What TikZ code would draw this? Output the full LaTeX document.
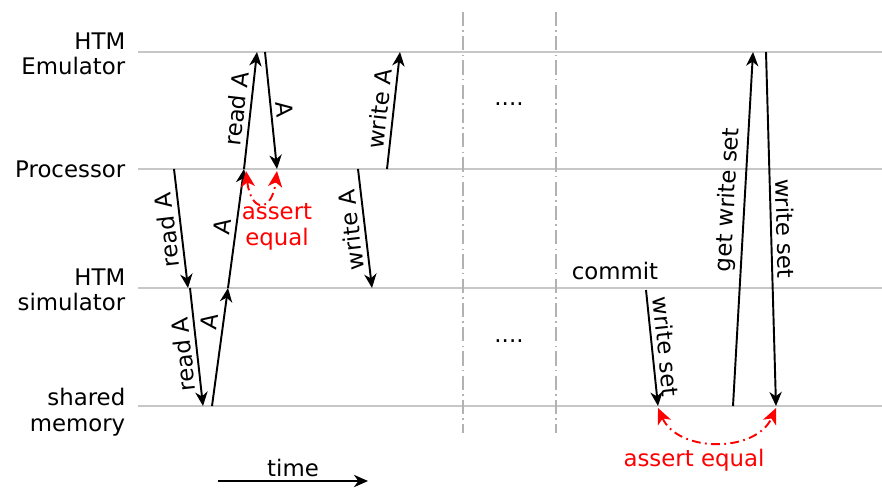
\documentclass[tikz,border=0pt]{standalone}
\usepackage{fontspec}
\setmainfont{DejaVu Sans}
\usetikzlibrary{arrows.meta}

\tikzset{
	lane/.style={black!22, line width=1.2pt},
	cut/.style={black!30, line width=1.2pt, dash pattern=on 8pt off 2.5pt on 0.8pt off 2.5pt},
	msg/.style={line width=1.1pt, -{Stealth[length=8pt, width=7pt, inset=2.5pt]}},
	eq/.style={red, line width=1.1pt, dash pattern=on 5pt off 2.5pt on 1pt off 2.5pt,
		{Stealth[length=9pt, width=8pt, inset=2.5pt]}-{Stealth[length=9pt, width=8pt, inset=2.5pt]}},
	lbl/.style={font=\fontsize{13}{14.5}\selectfont, inner sep=2.5pt},
	turned/.style={rotate=180},
}

\begin{document}
\begin{tikzpicture}[x=0.02cm, y=-0.02cm]
				\useasboundingbox (0,0) rectangle (882,487);
				% Lanes:
				\node[lbl, align=right, anchor=east] (emu) at (130,54){HTM\\Emulator};
				\node[lbl, anchor=east] (proc) at (130,169){Processor};
				\node[lbl, align=right, anchor=east] (sim) at (130,290){HTM\\simulator};
				\node[lbl, align=right, anchor=east] (mem) at (130,412){shared\\memory};
				\coordinate (emuL) at (138,52); \coordinate (emuR) at (882,52);
				\coordinate (procL) at (138,169); \coordinate (procR) at (882,169);
				\coordinate (simL) at (138,288); \coordinate (simR) at (882,288);
				\coordinate (memL) at (138,406); \coordinate (memR) at (882,406);
				\draw[lane] (emuL) -- (emuR);
				\draw[lane] (procL) -- (procR);
				\draw[lane] (simL) -- (simR);
				\draw[lane] (memL) -- (memR);
				\coordinate (cutAt) at (463,12); \coordinate (cutAb) at (463,433);
				\coordinate (cutBt) at (556,12); \coordinate (cutBb) at (556,433);
				\draw[cut] (cutAt) -- (cutAb);
				\draw[cut] (cutBt) -- (cutBb);
				\node[lbl] (dotsT) at (509,104){....};
				\node[lbl] (dotsB) at (509,341){....};
				% Read and write of A:
				\coordinate (p1) at (174,169); \coordinate (s1) at (188,288);
				\coordinate (s2) at (190,288); \coordinate (m2) at (203,406);
				\coordinate (m3) at (212,406); \coordinate (s3) at (228,288);
				\coordinate (p4) at (244,169); \coordinate (e5) at (257,52);
				\coordinate (e6) at (265,52); \coordinate (p6) at (277,169);
				\coordinate (p7) at (358,169); \coordinate (s7) at (372,288);
				\coordinate (p8) at (387,169); \coordinate (e8) at (400,52);
				\draw[msg] (p1) -- node[lbl, sloped, turned, above]{read A} (s1);
				\draw[msg] (s2) -- node[lbl, sloped, turned, above, pos=0.55]{read A} (m2);
				\draw[msg] (m3) -- node[lbl, sloped, above, pos=0.7]{A} (s3);
				\draw[msg] (s3) -- node[lbl, sloped, above, pos=0.5]{A} (p4);
				\draw[msg] (p4) -- node[lbl, sloped, above]{read A} (e5);
				\draw[msg] (e6) -- node[lbl, sloped, above]{A} (p6);
				\draw[msg] (p7) -- node[lbl, sloped, turned, above]{write A} (s7);
				\draw[msg] (p8) -- node[lbl, sloped, above]{write A} (e8);
				\coordinate (qa) at (246,171); \coordinate (qb) at (277,171);
				\draw[eq] (qa) .. controls +(5,42) and +(-5,42) .. (qb);
				\node[lbl, red, align=center] (eqT) at (277,227){assert\\equal};
				% Commit:
				\node[lbl] (commit) at (615,271){commit};
				\coordinate (c9) at (646,290); \coordinate (m9) at (658,406);
				\coordinate (m10) at (733,406); \coordinate (e10) at (753,52);
				\coordinate (e11) at (766,52); \coordinate (m11) at (776,406);
				\draw[msg] (c9) -- node[lbl, sloped, above]{write set} (m9);
				\draw[msg] (m10) -- node[lbl, sloped, above, pos=0.58]{get write set} (e10);
				\draw[msg] (e11) -- node[lbl, sloped, above]{write set} (m11);
				\coordinate (ra) at (658,408); \coordinate (rb) at (776,408);
				\draw[eq] (ra) .. controls +(20,45) and +(-20,45) .. (rb);
				\node[lbl, red] (eqB) at (694,460){assert equal};
				% Time axis:
				\coordinate (t0) at (218,481); \coordinate (t1) at (368,481);
				\draw[msg] (t0) -- node[lbl, above, inner sep=2pt]{time} (t1);
			\end{tikzpicture}
\end{document}
